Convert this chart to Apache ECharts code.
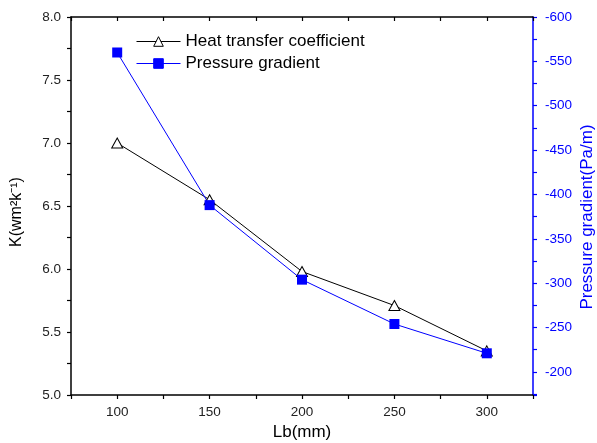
<!DOCTYPE html>
<html>
<head>
<meta charset="utf-8">
<script src="https://cdn.jsdelivr.net/npm/echarts@6/dist/echarts.min.js"></script>
<style>
html,body{margin:0;padding:0;background:#fff;}
#chart{width:597px;height:443px;}
</style>
</head>
<body>
<div id="chart"></div>
<script>
var lbValues = [100, 150, 200, 250, 300];
var heatTransfer = [7.0, 6.55, 5.98, 5.71, 5.35];
var pressureGradient = [-560, -388, -304, -254, -221];
var seriesNames = ['Heat transfer coefficient', 'Pressure gradient'];

var FONT = '"Liberation Sans", Arial, sans-serif';
var chart = echarts.init(document.getElementById('chart'));

function pairs(xs, ys) { return xs.map(function (x, i) { return [x, ys[i]]; }); }

chart.setOption({
  animation: false,
  backgroundColor: '#fff',
  textStyle: { fontFamily: FONT },
  grid: { left: 71, right: 64, top: 17, bottom: 48, containLabel: false, outerBoundsMode: 'none' },
  legend: {
    orient: 'vertical',
    left: 131,
    top: 28,
    itemWidth: 44,
    itemHeight: 12,
    itemGap: 5,
    textStyle: { fontSize: 17, color: '#000', fontFamily: FONT },
    itemStyle: { borderWidth: 1 },
    lineStyle: { width: 1 },
    data: seriesNames
  },
  xAxis: [{
    type: 'value', position: 'bottom', min: 75, max: 325, interval: 25,
    name: 'Lb(mm)', nameLocation: 'middle', nameGap: 29,
    nameTextStyle: { fontSize: 17, color: '#000', fontFamily: FONT },
    axisLine: { show: true, onZero: false, lineStyle: { color: '#000', width: 1.5 } },
    axisTick: { show: true, inside: false, length: 4, lineStyle: { color: '#000', width: 1.2 } },
    axisLabel: { fontSize: 13.5, color: '#222', margin: 10,
      formatter: function (v) { return v % 50 === 0 ? String(v) : ''; } },
    splitLine: { show: false }
  }, {
    type: 'value', position: 'top', min: 75, max: 325, interval: 25,
    axisLine: { show: true, onZero: false, lineStyle: { color: '#000', width: 1.5 } },
    axisTick: { show: true, inside: true, length: 4, lineStyle: { color: '#000', width: 1.2 } },
    axisLabel: { show: false },
    splitLine: { show: false }
  }],
  yAxis: [{
    type: 'value', position: 'left', min: 5, max: 8, interval: 0.25,
    name: 'K(wm\u00B2k\u207B\u00B9)', nameLocation: 'middle', nameGap: 46,
    nameTextStyle: { fontSize: 16, color: '#000', fontFamily: FONT, padding: [0, 12, 0, 0] },
    axisLine: { show: true, onZero: false, lineStyle: { color: '#000', width: 1.5 } },
    axisTick: { show: true, inside: false, length: 4, lineStyle: { color: '#000', width: 1.2 } },
    axisLabel: { fontSize: 13.5, color: '#222', margin: 10,
      formatter: function (v) { return Math.abs(v * 2 - Math.round(v * 2)) < 1e-6 ? v.toFixed(1) : ''; } },
    splitLine: { show: false }
  }, {
    type: 'value', position: 'right', inverse: true, min: -600, max: -174, interval: 25,
    name: 'Pressure gradient(Pa/m)', nameLocation: 'middle', nameGap: 46, nameMoveOverlap: false,
    nameTextStyle: { fontSize: 17, color: '#0000ff', fontFamily: FONT, padding: [0, 22, 0, 0] },
    axisLine: { show: true, onZero: false, lineStyle: { color: '#0000ff', width: 1.5 } },
    axisTick: { show: true, inside: false, length: 4, lineStyle: { color: '#0000ff', width: 1.2 } },
    axisLabel: { fontSize: 13.5, color: '#0000ff', margin: 12,
      formatter: function (v) { return v % 50 === 0 ? String(v) : ''; } },
    splitLine: { show: false }
  }],
  series: [{
    name: seriesNames[0], type: 'line', xAxisIndex: 0, yAxisIndex: 0,
    data: pairs(lbValues, heatTransfer),
    symbol: 'triangle', symbolSize: [11, 10],
    lineStyle: { color: '#000', width: 1 },
    itemStyle: { color: '#fff', borderColor: '#000', borderWidth: 1 }
  }, {
    name: seriesNames[1], type: 'line', xAxisIndex: 0, yAxisIndex: 1,
    data: pairs(lbValues, pressureGradient),
    symbol: 'rect', symbolSize: 10,
    lineStyle: { color: '#0000ff', width: 1 },
    itemStyle: { color: '#0000ff', borderColor: '#0000ff', borderWidth: 0 }
  }]
});
</script>
</body>
</html>
